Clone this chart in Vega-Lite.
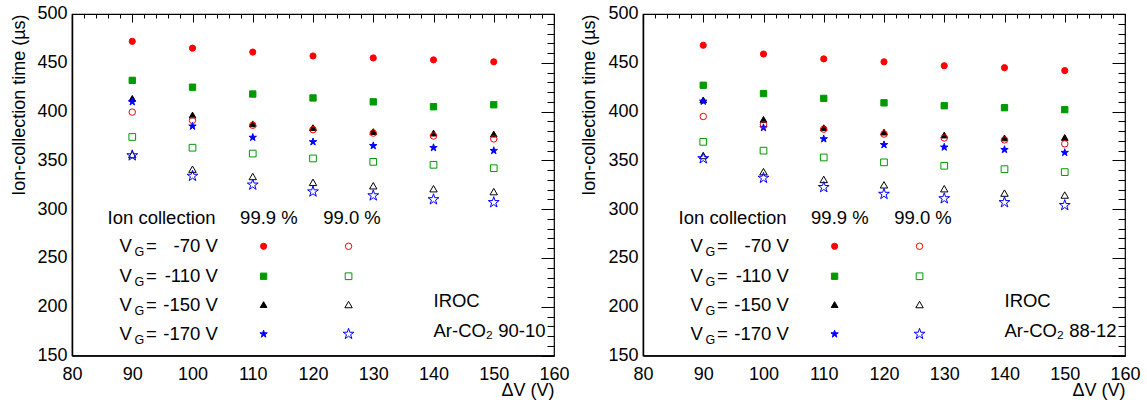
{
  "$schema": "https://vega.github.io/schema/vega-lite/v6.json",
  "background": "white",
  "padding": {"left": 9, "top": 4, "right": 5, "bottom": 5},
  "config": {
    "font": "Liberation Sans",
    "view": {"stroke": "black", "strokeWidth": 1.2},
    "axis": {
      "domainColor": "black", "domainWidth": 1.5, "tickColor": "black", "tickWidth": 1,
      "labelFont": "Liberation Sans", "labelFontSize": 18, "labelColor": "black",
      "titleFont": "Liberation Sans", "titleFontSize": 18, "titleFontWeight": "normal", "titleColor": "black",
      "grid": false, "labelOverlap": false, "labelFlush": false
    },
    "text": {"font": "Liberation Sans", "fontSize": 18.5, "color": "black"}
  },
  "datasets": {
    "points": [
      {"p":"L","k":"F70","dv":90,"t":472},{"p":"L","k":"F70","dv":100,"t":465},{"p":"L","k":"F70","dv":110,"t":461},{"p":"L","k":"F70","dv":120,"t":457},{"p":"L","k":"F70","dv":130,"t":455},{"p":"L","k":"F70","dv":140,"t":453},{"p":"L","k":"F70","dv":150,"t":451},
      {"p":"L","k":"F110","dv":90,"t":432},{"p":"L","k":"F110","dv":100,"t":425},{"p":"L","k":"F110","dv":110,"t":418},{"p":"L","k":"F110","dv":120,"t":414},{"p":"L","k":"F110","dv":130,"t":410},{"p":"L","k":"F110","dv":140,"t":405},{"p":"L","k":"F110","dv":150,"t":407},
      {"p":"L","k":"F150","dv":90,"t":413.5},{"p":"L","k":"F150","dv":100,"t":396.5},{"p":"L","k":"F150","dv":110,"t":387.5},{"p":"L","k":"F150","dv":120,"t":383.5},{"p":"L","k":"F150","dv":130,"t":379.5},{"p":"L","k":"F150","dv":140,"t":378},{"p":"L","k":"F150","dv":150,"t":377},
      {"p":"L","k":"F170","dv":90,"t":410},{"p":"L","k":"F170","dv":100,"t":385},{"p":"L","k":"F170","dv":110,"t":373.5},{"p":"L","k":"F170","dv":120,"t":369},{"p":"L","k":"F170","dv":130,"t":365},{"p":"L","k":"F170","dv":140,"t":363},{"p":"L","k":"F170","dv":150,"t":360},
      {"p":"L","k":"O70","dv":90,"t":399.5},{"p":"L","k":"O70","dv":100,"t":391},{"p":"L","k":"O70","dv":110,"t":386},{"p":"L","k":"O70","dv":120,"t":381.5},{"p":"L","k":"O70","dv":130,"t":378},{"p":"L","k":"O70","dv":140,"t":375},{"p":"L","k":"O70","dv":150,"t":372},
      {"p":"L","k":"O110","dv":90,"t":374},{"p":"L","k":"O110","dv":100,"t":363},{"p":"L","k":"O110","dv":110,"t":357},{"p":"L","k":"O110","dv":120,"t":352},{"p":"L","k":"O110","dv":130,"t":348.5},{"p":"L","k":"O110","dv":140,"t":345.5},{"p":"L","k":"O110","dv":150,"t":342},
      {"p":"L","k":"O150","dv":90,"t":356},{"p":"L","k":"O150","dv":100,"t":341},{"p":"L","k":"O150","dv":110,"t":333.5},{"p":"L","k":"O150","dv":120,"t":327.5},{"p":"L","k":"O150","dv":130,"t":324},{"p":"L","k":"O150","dv":140,"t":321},{"p":"L","k":"O150","dv":150,"t":318},
      {"p":"L","k":"O170","dv":90,"t":355},{"p":"L","k":"O170","dv":100,"t":334},{"p":"L","k":"O170","dv":110,"t":325},{"p":"L","k":"O170","dv":120,"t":318},{"p":"L","k":"O170","dv":130,"t":314},{"p":"L","k":"O170","dv":140,"t":310},{"p":"L","k":"O170","dv":150,"t":307},
      {"p":"R","k":"F70","dv":90,"t":468},{"p":"R","k":"F70","dv":100,"t":459},{"p":"R","k":"F70","dv":110,"t":454},{"p":"R","k":"F70","dv":120,"t":451},{"p":"R","k":"F70","dv":130,"t":447},{"p":"R","k":"F70","dv":140,"t":445},{"p":"R","k":"F70","dv":150,"t":442},
      {"p":"R","k":"F110","dv":90,"t":427},{"p":"R","k":"F110","dv":100,"t":418.5},{"p":"R","k":"F110","dv":110,"t":413.5},{"p":"R","k":"F110","dv":120,"t":409},{"p":"R","k":"F110","dv":130,"t":406},{"p":"R","k":"F110","dv":140,"t":404},{"p":"R","k":"F110","dv":150,"t":402},
      {"p":"R","k":"F150","dv":90,"t":412},{"p":"R","k":"F150","dv":100,"t":392},{"p":"R","k":"F150","dv":110,"t":383.5},{"p":"R","k":"F150","dv":120,"t":379},{"p":"R","k":"F150","dv":130,"t":376},{"p":"R","k":"F150","dv":140,"t":373},{"p":"R","k":"F150","dv":150,"t":373.5},
      {"p":"R","k":"F170","dv":90,"t":410.5},{"p":"R","k":"F170","dv":100,"t":383.5},{"p":"R","k":"F170","dv":110,"t":372},{"p":"R","k":"F170","dv":120,"t":366},{"p":"R","k":"F170","dv":130,"t":363.5},{"p":"R","k":"F170","dv":140,"t":361},{"p":"R","k":"F170","dv":150,"t":358},
      {"p":"R","k":"O70","dv":90,"t":395},{"p":"R","k":"O70","dv":100,"t":386.5},{"p":"R","k":"O70","dv":110,"t":382},{"p":"R","k":"O70","dv":120,"t":377},{"p":"R","k":"O70","dv":130,"t":373},{"p":"R","k":"O70","dv":140,"t":371},{"p":"R","k":"O70","dv":150,"t":367},
      {"p":"R","k":"O110","dv":90,"t":369},{"p":"R","k":"O110","dv":100,"t":360},{"p":"R","k":"O110","dv":110,"t":353},{"p":"R","k":"O110","dv":120,"t":348},{"p":"R","k":"O110","dv":130,"t":344.5},{"p":"R","k":"O110","dv":140,"t":341},{"p":"R","k":"O110","dv":150,"t":338},
      {"p":"R","k":"O150","dv":90,"t":355},{"p":"R","k":"O150","dv":100,"t":338.5},{"p":"R","k":"O150","dv":110,"t":330.5},{"p":"R","k":"O150","dv":120,"t":325},{"p":"R","k":"O150","dv":130,"t":321},{"p":"R","k":"O150","dv":140,"t":316.5},{"p":"R","k":"O150","dv":150,"t":314.5},
      {"p":"R","k":"O170","dv":90,"t":352},{"p":"R","k":"O170","dv":100,"t":332},{"p":"R","k":"O170","dv":110,"t":322.5},{"p":"R","k":"O170","dv":120,"t":315.5},{"p":"R","k":"O170","dv":130,"t":311},{"p":"R","k":"O170","dv":140,"t":307},{"p":"R","k":"O170","dv":150,"t":304}
    ],
    "legendSymbols": [
      {"k":"F70","dv":111.8,"t":262},{"k":"O70","dv":125.9,"t":262},
      {"k":"F110","dv":111.8,"t":231.3},{"k":"O110","dv":125.9,"t":231.3},
      {"k":"F150","dv":111.8,"t":202.3},{"k":"O150","dv":125.9,"t":202.3},
      {"k":"F170","dv":111.8,"t":172.1},{"k":"O170","dv":125.9,"t":172.1}
    ],
    "legendRows": [
      {"val":"-70 V","t":262},{"val":"-110 V","t":231.3},{"val":"-150 V","t":202.3},{"val":"-170 V","t":172.1}
    ],
    "notes": [
      {"p":"B","text":"Ion collection","x":85.9,"t":291},
      {"p":"B","text":"99.9 %","x":107.9,"t":291},
      {"p":"B","text":"99.0 %","x":121.7,"t":291},
      {"p":"B","text":"IROC","x":140,"t":205.6},
      {"p":"L","text":"Ar-CO₂ 90-10","x":140,"t":175.6},
      {"p":"R","text":"Ar-CO₂ 88-12","x":140,"t":175.6}
    ]
  },
  "bounds": "flush",
  "spacing": 89,
  "hconcat": [
    {
      "width": 482, "height": 341.6,
      "resolve": {"axis": {"x": "independent", "y": "independent"}},
      "layer": [
        {
          "data": {"name": "points"},
          "transform": [{"filter": "datum.p === 'L'"}],
          "mark": {"type": "point", "strokeWidth": 1, "opacity": 1},
          "encoding": {
            "x": {"field": "dv", "type": "quantitative", "scale": {"domain": [80, 160], "nice": false, "zero": false},
              "axis": {"values": [80,90,100,110,120,130,140,150,160], "ticks": false, "labelOverlap": false, "labelFlush": false,
                "labelPadding": 10, "title": "ΔV (V)", "titleAnchor": "end", "titleAlign": "right", "titleX": 482, "titleY": 35, "titleBaseline": "middle"}},
            "y": {"field": "t", "type": "quantitative", "scale": {"domain": [150, 500], "nice": false, "zero": false},
              "axis": {"values": [150,200,250,300,350,400,450,500], "ticks": false, "labelOverlap": false, "labelFlush": false,
                "labelPadding": 5, "title": "Ion-collection time (µs)", "titleAnchor": "end", "titleAlign": "right", "titleAngle": -90, "titleX": -53, "titleY": 0, "titleBaseline": "middle"}},
            "shape": {"field": "k", "type": "nominal", "legend": null, "scale": {"domain": ["F70","F110","F150","F170","O70","O110","O150","O170"], "range": ["circle","square","triangle-up","M0,-1L0.2245,-0.309L0.9511,-0.309L0.3633,0.118L0.5878,0.809L0,0.382L-0.5878,0.809L-0.3633,0.118L-0.9511,-0.309L-0.2245,-0.309Z","circle","square","triangle-up","M0,-1L0.2245,-0.309L0.9511,-0.309L0.3633,0.118L0.5878,0.809L0,0.382L-0.5878,0.809L-0.3633,0.118L-0.9511,-0.309L-0.2245,-0.309Z"]}},
            "stroke": {"field": "k", "type": "nominal", "legend": null, "scale": {"domain": ["F70","F110","F150","F170","O70","O110","O150","O170"], "range": ["#ff0000","#009900","#000000","#0000ff","#ff0000","#009900","#000000","#0000ff"]}},
            "fill": {"field": "k", "type": "nominal", "legend": null, "scale": {"domain": ["F70","F110","F150","F170","O70","O110","O150","O170"], "range": ["#ff0000","#009900","#000000","#0000ff","transparent","transparent","transparent","transparent"]}},
            "size": {"field": "k", "type": "nominal", "legend": null, "scale": {"type": "ordinal", "domain": ["F70","F110","F150","F170","O70","O110","O150","O170"], "range": [38,40,45,60,42,45,55,130]}}
          }
        },
        {
          "data": {"name": "legendSymbols"},
          "mark": {"type": "point", "strokeWidth": 1, "opacity": 1},
          "encoding": {
            "x": {"field": "dv", "type": "quantitative", "axis": {"values": [80,90,100,110,120,130,140,150,160], "labels": false, "domain": false, "title": null, "tickSize": -8}},
            "y": {"field": "t", "type": "quantitative", "axis": {"values": [150,200,250,300,350,400,450,500], "labels": false, "domain": false, "title": null, "tickSize": -13}},
            "shape": {"field": "k", "type": "nominal", "legend": null, "scale": {"domain": ["F70","F110","F150","F170","O70","O110","O150","O170"], "range": ["circle","square","triangle-up","M0,-1L0.2245,-0.309L0.9511,-0.309L0.3633,0.118L0.5878,0.809L0,0.382L-0.5878,0.809L-0.3633,0.118L-0.9511,-0.309L-0.2245,-0.309Z","circle","square","triangle-up","M0,-1L0.2245,-0.309L0.9511,-0.309L0.3633,0.118L0.5878,0.809L0,0.382L-0.5878,0.809L-0.3633,0.118L-0.9511,-0.309L-0.2245,-0.309Z"]}},
            "stroke": {"field": "k", "type": "nominal", "legend": null, "scale": {"domain": ["F70","F110","F150","F170","O70","O110","O150","O170"], "range": ["#ff0000","#009900","#000000","#0000ff","#ff0000","#009900","#000000","#0000ff"]}},
            "fill": {"field": "k", "type": "nominal", "legend": null, "scale": {"domain": ["F70","F110","F150","F170","O70","O110","O150","O170"], "range": ["#ff0000","#009900","#000000","#0000ff","transparent","transparent","transparent","transparent"]}},
            "size": {"field": "k", "type": "nominal", "legend": null, "scale": {"type": "ordinal", "domain": ["F70","F110","F150","F170","O70","O110","O150","O170"], "range": [38,40,45,60,42,45,55,130]}}
          }
        },
        {
          "data": {"name": "notes"},
          "transform": [{"filter": "datum.p === 'B' || datum.p === 'L'"}],
          "mark": {"type": "text", "align": "left", "baseline": "middle"},
          "encoding": {
            "x": {"field": "x", "type": "quantitative", "axis": {"values": [82,84,86,88,92,94,96,98,102,104,106,108,112,114,116,118,122,124,126,128,132,134,136,138,142,144,146,148,152,154,156,158], "labels": false, "domain": false, "title": null, "tickSize": -4}},
            "y": {"field": "t", "type": "quantitative", "axis": {"values": [160,170,180,190,210,220,230,240,260,270,280,290,310,320,330,340,360,370,380,390,410,420,430,440,460,470,480,490], "labels": false, "domain": false, "title": null, "tickSize": -7}},
            "text": {"field": "text"}}
        },
        {
          "data": {"name": "legendRows"},
          "mark": {"type": "text", "align": "left", "baseline": "middle"},
          "encoding": {"x": {"datum": 87.9, "axis": null}, "y": {"field": "t", "type": "quantitative", "axis": null}, "text": {"value": "V"}}
        },
        {
          "data": {"name": "legendRows"},
          "mark": {"type": "text", "align": "left", "baseline": "middle", "fontSize": 12.5, "dx": 15, "dy": 6},
          "encoding": {"x": {"datum": 87.9, "axis": null}, "y": {"field": "t", "type": "quantitative", "axis": null}, "text": {"value": "G"}}
        },
        {
          "data": {"name": "legendRows"},
          "mark": {"type": "text", "align": "left", "baseline": "middle"},
          "encoding": {"x": {"datum": 92.3, "axis": null}, "y": {"field": "t", "type": "quantitative", "axis": null}, "text": {"value": "="}}
        },
        {
          "data": {"name": "legendRows"},
          "mark": {"type": "text", "align": "right", "baseline": "middle"},
          "encoding": {"x": {"datum": 104.2, "axis": null}, "y": {"field": "t", "type": "quantitative", "axis": null}, "text": {"field": "val"}}
        }
      ]
    },
    {
      "width": 482, "height": 341.6,
      "resolve": {"axis": {"x": "independent", "y": "independent"}},
      "layer": [
        {
          "data": {"name": "points"},
          "transform": [{"filter": "datum.p === 'R'"}],
          "mark": {"type": "point", "strokeWidth": 1, "opacity": 1},
          "encoding": {
            "x": {"field": "dv", "type": "quantitative", "scale": {"domain": [80, 160], "nice": false, "zero": false},
              "axis": {"values": [80,90,100,110,120,130,140,150,160], "ticks": false, "labelOverlap": false, "labelFlush": false,
                "labelPadding": 10, "title": "ΔV (V)", "titleAnchor": "end", "titleAlign": "right", "titleX": 482, "titleY": 35, "titleBaseline": "middle"}},
            "y": {"field": "t", "type": "quantitative", "scale": {"domain": [150, 500], "nice": false, "zero": false},
              "axis": {"values": [150,200,250,300,350,400,450,500], "ticks": false, "labelOverlap": false, "labelFlush": false,
                "labelPadding": 5, "title": "Ion-collection time (µs)", "titleAnchor": "end", "titleAlign": "right", "titleAngle": -90, "titleX": -53, "titleY": 0, "titleBaseline": "middle"}},
            "shape": {"field": "k", "type": "nominal", "legend": null, "scale": {"domain": ["F70","F110","F150","F170","O70","O110","O150","O170"], "range": ["circle","square","triangle-up","M0,-1L0.2245,-0.309L0.9511,-0.309L0.3633,0.118L0.5878,0.809L0,0.382L-0.5878,0.809L-0.3633,0.118L-0.9511,-0.309L-0.2245,-0.309Z","circle","square","triangle-up","M0,-1L0.2245,-0.309L0.9511,-0.309L0.3633,0.118L0.5878,0.809L0,0.382L-0.5878,0.809L-0.3633,0.118L-0.9511,-0.309L-0.2245,-0.309Z"]}},
            "stroke": {"field": "k", "type": "nominal", "legend": null, "scale": {"domain": ["F70","F110","F150","F170","O70","O110","O150","O170"], "range": ["#ff0000","#009900","#000000","#0000ff","#ff0000","#009900","#000000","#0000ff"]}},
            "fill": {"field": "k", "type": "nominal", "legend": null, "scale": {"domain": ["F70","F110","F150","F170","O70","O110","O150","O170"], "range": ["#ff0000","#009900","#000000","#0000ff","transparent","transparent","transparent","transparent"]}},
            "size": {"field": "k", "type": "nominal", "legend": null, "scale": {"type": "ordinal", "domain": ["F70","F110","F150","F170","O70","O110","O150","O170"], "range": [38,40,45,60,42,45,55,130]}}
          }
        },
        {
          "data": {"name": "legendSymbols"},
          "mark": {"type": "point", "strokeWidth": 1, "opacity": 1},
          "encoding": {
            "x": {"field": "dv", "type": "quantitative", "axis": {"values": [80,90,100,110,120,130,140,150,160], "labels": false, "domain": false, "title": null, "tickSize": -8}},
            "y": {"field": "t", "type": "quantitative", "axis": {"values": [150,200,250,300,350,400,450,500], "labels": false, "domain": false, "title": null, "tickSize": -13}},
            "shape": {"field": "k", "type": "nominal", "legend": null, "scale": {"domain": ["F70","F110","F150","F170","O70","O110","O150","O170"], "range": ["circle","square","triangle-up","M0,-1L0.2245,-0.309L0.9511,-0.309L0.3633,0.118L0.5878,0.809L0,0.382L-0.5878,0.809L-0.3633,0.118L-0.9511,-0.309L-0.2245,-0.309Z","circle","square","triangle-up","M0,-1L0.2245,-0.309L0.9511,-0.309L0.3633,0.118L0.5878,0.809L0,0.382L-0.5878,0.809L-0.3633,0.118L-0.9511,-0.309L-0.2245,-0.309Z"]}},
            "stroke": {"field": "k", "type": "nominal", "legend": null, "scale": {"domain": ["F70","F110","F150","F170","O70","O110","O150","O170"], "range": ["#ff0000","#009900","#000000","#0000ff","#ff0000","#009900","#000000","#0000ff"]}},
            "fill": {"field": "k", "type": "nominal", "legend": null, "scale": {"domain": ["F70","F110","F150","F170","O70","O110","O150","O170"], "range": ["#ff0000","#009900","#000000","#0000ff","transparent","transparent","transparent","transparent"]}},
            "size": {"field": "k", "type": "nominal", "legend": null, "scale": {"type": "ordinal", "domain": ["F70","F110","F150","F170","O70","O110","O150","O170"], "range": [38,40,45,60,42,45,55,130]}}
          }
        },
        {
          "data": {"name": "notes"},
          "transform": [{"filter": "datum.p === 'B' || datum.p === 'R'"}],
          "mark": {"type": "text", "align": "left", "baseline": "middle"},
          "encoding": {
            "x": {"field": "x", "type": "quantitative", "axis": {"values": [82,84,86,88,92,94,96,98,102,104,106,108,112,114,116,118,122,124,126,128,132,134,136,138,142,144,146,148,152,154,156,158], "labels": false, "domain": false, "title": null, "tickSize": -4}},
            "y": {"field": "t", "type": "quantitative", "axis": {"values": [160,170,180,190,210,220,230,240,260,270,280,290,310,320,330,340,360,370,380,390,410,420,430,440,460,470,480,490], "labels": false, "domain": false, "title": null, "tickSize": -7}},
            "text": {"field": "text"}}
        },
        {
          "data": {"name": "legendRows"},
          "mark": {"type": "text", "align": "left", "baseline": "middle"},
          "encoding": {"x": {"datum": 87.9, "axis": null}, "y": {"field": "t", "type": "quantitative", "axis": null}, "text": {"value": "V"}}
        },
        {
          "data": {"name": "legendRows"},
          "mark": {"type": "text", "align": "left", "baseline": "middle", "fontSize": 12.5, "dx": 15, "dy": 6},
          "encoding": {"x": {"datum": 87.9, "axis": null}, "y": {"field": "t", "type": "quantitative", "axis": null}, "text": {"value": "G"}}
        },
        {
          "data": {"name": "legendRows"},
          "mark": {"type": "text", "align": "left", "baseline": "middle"},
          "encoding": {"x": {"datum": 92.3, "axis": null}, "y": {"field": "t", "type": "quantitative", "axis": null}, "text": {"value": "="}}
        },
        {
          "data": {"name": "legendRows"},
          "mark": {"type": "text", "align": "right", "baseline": "middle"},
          "encoding": {"x": {"datum": 104.2, "axis": null}, "y": {"field": "t", "type": "quantitative", "axis": null}, "text": {"field": "val"}}
        }
      ]
    }
  ]
}
